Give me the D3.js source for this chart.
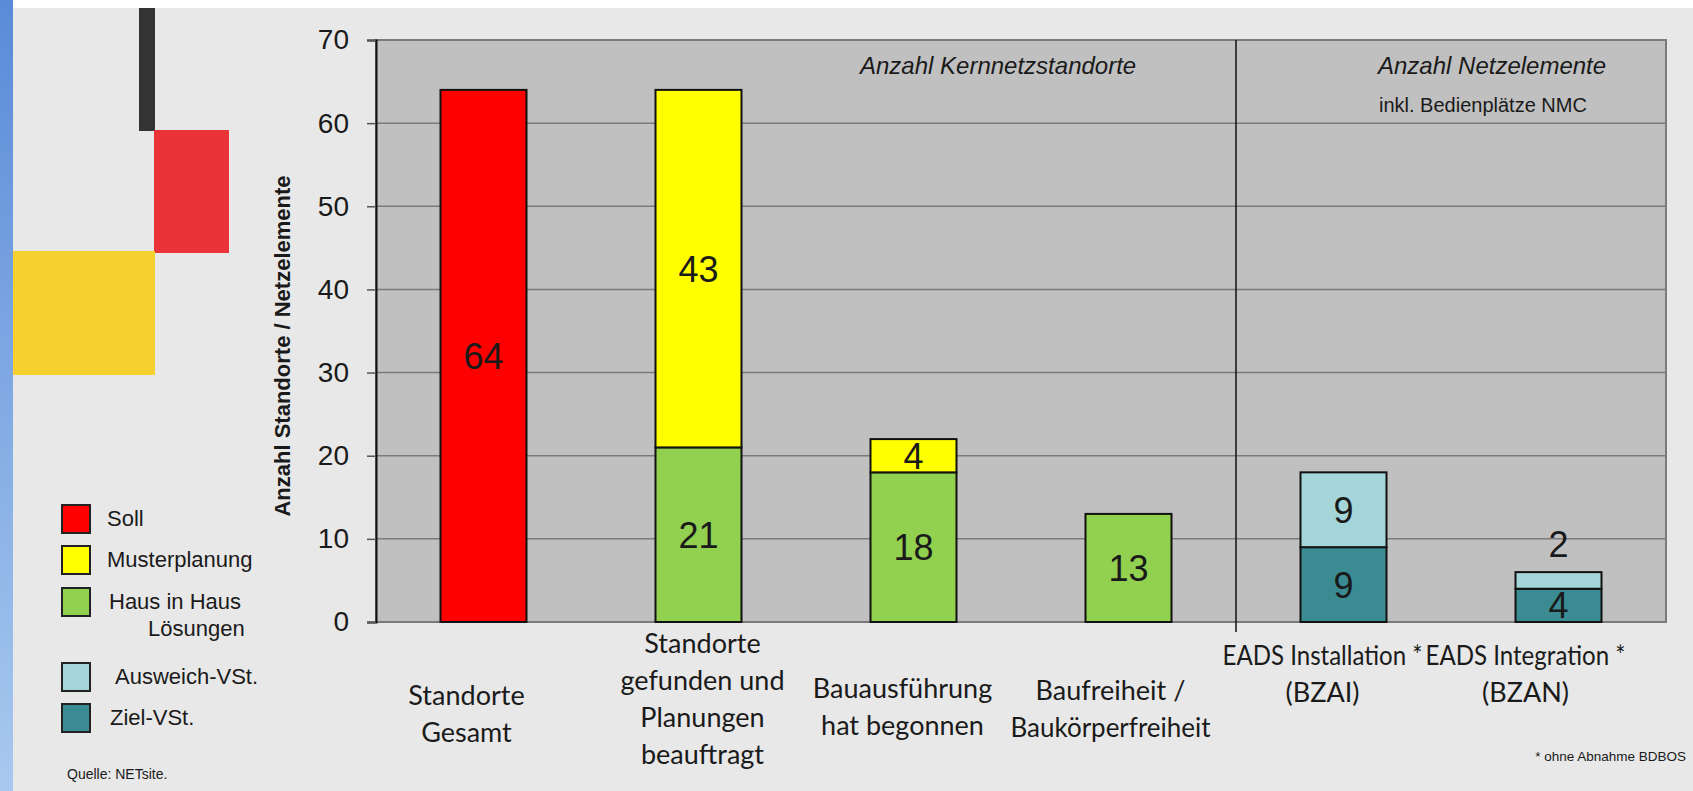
<!DOCTYPE html>
<html lang="de">
<head>
<meta charset="utf-8">
<title>Kernnetzstandorte</title>
<script src="https://cdn.jsdelivr.net/npm/d3@7"></script>
<style>
  body { margin: 0; background: #e8e8e8; overflow: hidden; }
  text { font-family: "Liberation Sans", Arial, sans-serif; fill: #1a1a1a; }
  .xlab { font-family: Lato, "Open Sans", sans-serif; }
</style>
</head>
<body>
<script>
// --- data ---
const categories = ["gesamt", "gefunden", "bau", "baufreiheit", "bzai", "bzan"];
const categoryLines = [
    ["Standorte", "Gesamt"],
    ["Standorte", "gefunden und", "Planungen", "beauftragt"],
    ["Bauausführung", "hat begonnen"],
    ["Baufreiheit /", "Baukörperfreiheit"],
    ["EADS Installation *", "(BZAI)"],
    ["EADS Integration *", "(BZAN)"]
];
const seriesKeys = ["Soll", "Haus in Haus", "Musterplanung", "Ziel-VSt.", "Ausweich-VSt."];
const soll          = [64, 0, 0, 0, 0, 0];
const hausInHaus    = [0, 21, 18, 13, 0, 0];
const musterplanung = [0, 43, 4, 0, 0, 0];
const zielVSt       = [0, 0, 0, 0, 9, 4];
const ausweichVSt   = [0, 0, 0, 0, 9, 2];
const yTicks = [0, 10, 20, 30, 40, 50, 60, 70];
const legendNames = ["Soll", "Musterplanung", "Haus in Haus|Lösungen", "Ausweich-VSt.", "Ziel-VSt."];
const legendKeys = ["Soll", "Musterplanung", "Haus in Haus", "Ausweich-VSt.", "Ziel-VSt."];

// --- layout ---
const width = 1693, height = 791;
const plot = { left: 376, right: 1666, top: 40, bottom: 622 };
const colors = {
    "Soll": "#ff0000",
    "Musterplanung": "#ffff00",
    "Haus in Haus": "#92d050",
    "Ziel-VSt.": "#3a8b92",
    "Ausweich-VSt.": "#a3d5d9"
};
// x labels are loose text boxes in the original, not exactly centred
const labelTop = [696, 644, 689, 691, 656, 656];
const labelDx = [-17, 4, -11, -18, -21, -33];
const lineGap = 37;
const maxLabelWidth = 200;

const svg = d3.select("body").append("svg")
    .attr("width", width)
    .attr("height", height);

// page decoration: white top strip, blue edge, flag blocks
const grad = svg.append("defs").append("linearGradient")
    .attr("id", "edge").attr("x1", 0).attr("y1", 0).attr("x2", 0).attr("y2", 1);
grad.append("stop").attr("offset", "0%").attr("stop-color", "#5a8bd8");
grad.append("stop").attr("offset", "100%").attr("stop-color", "#a8c9ef");
svg.append("rect").attr("x", 0).attr("y", 0).attr("width", width).attr("height", 8).attr("fill", "#ffffff");
svg.append("rect").attr("x", 0).attr("y", 0).attr("width", 13).attr("height", height).attr("fill", "url(#edge)");
svg.append("rect").attr("x", 139).attr("y", 8).attr("width", 16).attr("height", 123).attr("fill", "#333333");
svg.append("rect").attr("x", 154).attr("y", 130).attr("width", 75).attr("height", 123).attr("fill", "#ea3339");
svg.append("rect").attr("x", 13).attr("y", 251).attr("width", 142).attr("height", 124).attr("fill", "#f6d02f");

// scales
const x = d3.scaleBand()
    .domain(categories)
    .range([plot.left, plot.right])
    .paddingInner(0.6)
    .paddingOuter(0.3);
const y = d3.scaleLinear()
    .domain([0, 70])
    .range([plot.bottom, plot.top]);

// plot background and grid
svg.append("rect")
    .attr("x", plot.left).attr("y", plot.top)
    .attr("width", plot.right - plot.left).attr("height", plot.bottom - plot.top)
    .attr("fill", "#c0c0c0")
    .attr("stroke", "#7a7a7a").attr("stroke-width", 2);
svg.append("g").selectAll("line")
    .data(yTicks.filter(t => t > 0 && t < 70))
    .join("line")
    .attr("x1", plot.left).attr("x2", plot.right)
    .attr("y1", d => y(d)).attr("y2", d => y(d))
    .attr("stroke", "#7a7a7a").attr("stroke-width", 1.5);

// divider between the two groups
const divX = (x(categories[3]) + x.bandwidth() + x(categories[4])) / 2;
svg.append("line")
    .attr("x1", divX).attr("x2", divX)
    .attr("y1", plot.top).attr("y2", plot.bottom + 10)
    .attr("stroke", "#111").attr("stroke-width", 1.5);

// stacked bars
const rows = categories.map((c, i) => ({
    cat: c,
    "Soll": soll[i],
    "Haus in Haus": hausInHaus[i],
    "Musterplanung": musterplanung[i],
    "Ziel-VSt.": zielVSt[i],
    "Ausweich-VSt.": ausweichVSt[i]
}));
const stacked = d3.stack().keys(seriesKeys)(rows);

const segs = [];
stacked.forEach(s => s.forEach(d => {
    if (d[1] - d[0] > 0) segs.push({ key: s.key, cat: d.data.cat, y0: d[0], y1: d[1] });
}));

svg.append("g").selectAll("rect")
    .data(segs)
    .join("rect")
    .attr("x", d => x(d.cat))
    .attr("width", x.bandwidth())
    .attr("y", d => y(d.y1))
    .attr("height", d => y(d.y0) - y(d.y1))
    .attr("fill", d => colors[d.key])
    .attr("stroke", "#111")
    .attr("stroke-width", 2);

// value labels: inside the segment, above the bar if the segment is too thin
svg.append("g").selectAll("text")
    .data(segs)
    .join("text")
    .attr("x", d => x(d.cat) + x.bandwidth() / 2)
    .attr("y", d => {
        const h = y(d.y0) - y(d.y1);
        return h < 25 ? y(d.y1) - 28 : (y(d.y0) + y(d.y1)) / 2;
    })
    .attr("dy", "0.36em")
    .attr("text-anchor", "middle")
    .attr("font-size", 36)
    .text(d => d.y1 - d.y0);

// y axis
const yAxis = svg.append("g")
    .attr("transform", `translate(${plot.left},0)`)
    .call(d3.axisLeft(y).tickValues(yTicks).tickSize(9).tickPadding(18));
yAxis.select(".domain").attr("stroke", "#111").attr("stroke-width", 2);
yAxis.selectAll(".tick line").attr("stroke", "#555").attr("stroke-width", 1.5);
yAxis.selectAll(".tick text")
    .attr("font-family", "Liberation Sans, Arial, sans-serif")
    .attr("font-size", 28)
    .attr("fill", "#1a1a1a");

svg.append("text")
    .attr("transform", "translate(290,346) rotate(-90)")
    .attr("text-anchor", "middle")
    .attr("font-size", 22)
    .attr("font-weight", "bold")
    .text("Anzahl Standorte / Netzelemente");

// category labels
categories.forEach((c, i) => {
    const cx = x(c) + x.bandwidth() / 2 + labelDx[i];
    const t = svg.append("text")
        .attr("class", "xlab")
        .attr("text-anchor", "middle")
        .attr("font-size", 27);
    categoryLines[i].forEach((line, j) => {
        const span = t.append("tspan")
            .attr("x", cx)
            .attr("y", labelTop[i] + j * lineGap)
            .attr("dy", "0.35em")
            .text(line);
        // Calibri in the original is narrower than the fallback font
        if (span.node().getComputedTextLength() > maxLabelWidth) {
            span.attr("textLength", maxLabelWidth).attr("lengthAdjust", "spacingAndGlyphs");
        }
    });
});

// group headers
svg.append("text").attr("x", 860).attr("y", 74)
    .attr("font-size", 24).attr("font-style", "italic")
    .text("Anzahl Kernnetzstandorte");
svg.append("text").attr("x", 1378).attr("y", 74)
    .attr("font-size", 24).attr("font-style", "italic")
    .text("Anzahl Netzelemente");
svg.append("text").attr("x", 1379).attr("y", 112)
    .attr("font-size", 20)
    .text("inkl. Bedienplätze NMC");

svg.append("text").attr("x", 1686).attr("y", 756)
    .attr("dy", "0.35em")
    .attr("text-anchor", "end")
    .attr("font-size", 13.5)
    .text("* ohne Abnahme BDBOS");

// legend
const legendY = [505, 546, 588, 663, 704];
const legendTextX = [45, 45, 47, 53, 48];
const legend = svg.append("g").selectAll("g")
    .data(legendKeys)
    .join("g")
    .attr("transform", (d, i) => `translate(62,${legendY[i]})`);
legend.append("rect")
    .attr("width", 28).attr("height", 28)
    .attr("fill", d => colors[d])
    .attr("stroke", "#222").attr("stroke-width", 2);
legend.append("text")
    .attr("font-size", 22)
    .each(function (d, i) {
        const parts = legendNames[i].split("|");
        parts.forEach((p, j) => {
            d3.select(this).append("tspan")
                .attr("x", j === 0 ? legendTextX[i] : 86)
                .attr("y", 13 + j * 27)
                .attr("dy", "0.35em")
                .text(p);
        });
    });

svg.append("text").attr("x", 67).attr("y", 774)
    .attr("dy", "0.35em")
    .attr("font-size", 14)
    .text("Quelle: NETsite.");
</script>
</body>
</html>
